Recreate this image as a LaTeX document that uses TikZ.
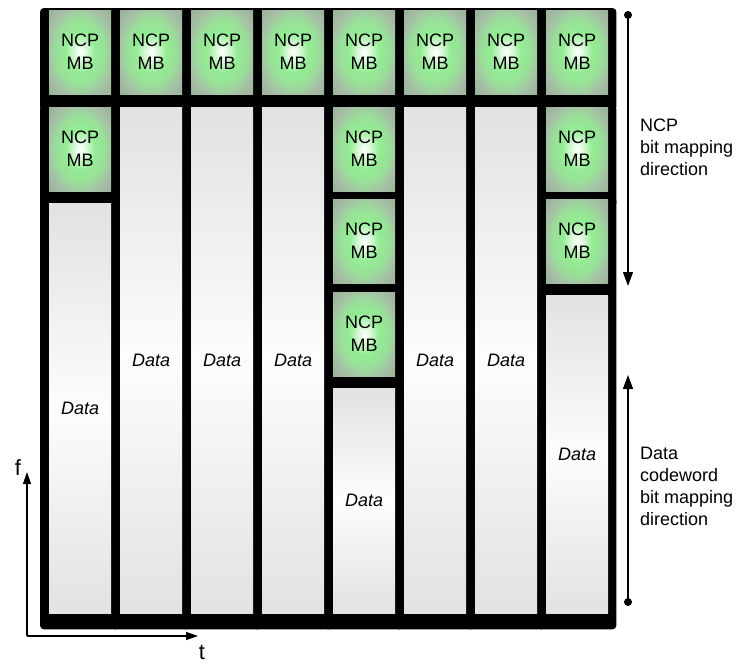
\documentclass[tikz,border=0pt]{standalone}
\usepackage{fontspec}
\setmainfont{Liberation Sans}
\usetikzlibrary{positioning,arrows.meta}

\definecolor{ncpgreen}{RGB}{148,236,148}
\definecolor{ncpedge}{RGB}{166,192,166}
\definecolor{ncpcorner}{RGB}{150,172,150}
\definecolor{datagray}{RGB}{226,226,226}

\pgfdeclareradialshading{ncpglow}{\pgfpoint{0bp}{0bp}}{%
  color(0bp)=(white); color(5bp)=(ncpgreen!35!white); color(12bp)=(ncpgreen);
  color(20bp)=(ncpgreen!70!ncpedge); color(27bp)=(ncpedge); color(38bp)=(ncpcorner); color(50bp)=(ncpcorner)}

\pgfdeclarelayer{shadow}
\pgfsetlayers{shadow,main}

\tikzset{
  cellbox/.style={anchor=north west, inner sep=0pt, minimum width=62pt, align=center, font=\fontsize{18}{23}\selectfont},
  ncpbox/.style={cellbox, minimum height=84pt, shade, shading=ncpglow},
  databox/.style={cellbox, top color=datagray, bottom color=datagray, middle color=white!92!datagray, font=\fontsize{18}{23}\selectfont\itshape},
  shadowbox/.style={fill=black, rounded corners=4pt},
  dot/.style={circle, fill=black, inner sep=0pt, minimum size=8pt},
  sidelabel/.style={anchor=north west, inner sep=0pt, align=left, font=\fontsize{18}{22}\selectfont},
  axislabel/.style={inner sep=0pt, font=\fontsize{22}{26}\selectfont},
  dirarrow/.style={line width=1.2pt, -{Triangle[width=10pt,length=14pt]}},
  axisarrow/.style={line width=1.2pt, -{Triangle[width=8pt,length=12pt]}},
}

\newcommand{\cellshadow}[1]{%
  \begin{pgfonlayer}{shadow}
    \fill[shadowbox] ([shift={(-9,-2)}]#1.north west) rectangle ([shift={(8,16)}]#1.south east);
  \end{pgfonlayer}}

\begin{document}
\begin{tikzpicture}[x=1pt, y=-1pt]
  \useasboundingbox (0,0) rectangle (740,665);

  % Cells
  \foreach \c/\k in {1/2,2/1,3/1,4/1,5/4,6/1,7/1,8/3} {
    \pgfmathsetmacro\xl{49+71*(\c-1)}
    \foreach \r in {1,...,\k} {
      \pgfmathsetmacro\yt{{10,107,199,292}[\r-1]}
      \node[ncpbox] (ncp\c\r) at (\xl,\yt) {NCP\\MB};
      \cellshadow{ncp\c\r}
    }
    \pgfmathsetmacro\yd{{107,203,295,388}[\k-1]}
    \pgfmathsetmacro\hd{613-\yd}
    \node[databox, minimum height=\hd pt] (data\c) at (\xl,\yd) {Data};
    \cellshadow{data\c}
  }

  % Mapping directions
  \node[dot] (ncpdot) at (628,15) {};
  \coordinate (ncpend) at (628,286);
  \draw[dirarrow] (ncpdot.center) -- (ncpend);
  \node[dot] (datadot) at (628,602) {};
  \coordinate (dataend) at (628,375);
  \draw[dirarrow] (datadot.center) -- (dataend);
  \node[sidelabel] (ncplabel) at (640,119) {NCP\\bit mapping\\direction};
  \node[sidelabel] (datalabel) at (640,447) {Data\\codeword\\bit mapping\\direction};

  % Axes
  \coordinate (origin) at (27,636);
  \coordinate (fend) at (27,472);
  \coordinate (tend) at (198,636);
  \draw[axisarrow] (origin) -- (fend);
  \draw[axisarrow] (origin) -- (tend);
  \node[axislabel] (flabel) at (18,468) {f};
  \node[axislabel] (tlabel) at (202,652) {t};
\end{tikzpicture}
\end{document}
